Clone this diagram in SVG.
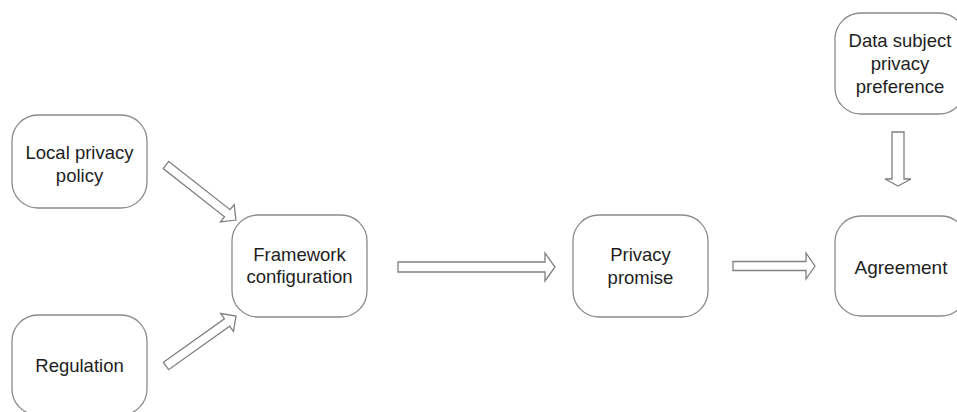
<svg xmlns="http://www.w3.org/2000/svg" width="957" height="412" viewBox="0 0 957 412">
<style>
.box{fill:#fff;stroke:#8a8a8a;stroke-width:1.3}
.arr{fill:#fff;stroke:#808080;stroke-width:1.3;stroke-linejoin:miter}
text{font-family:"Liberation Sans",Arial,sans-serif;font-size:18.5px;fill:#1e1e1e;text-anchor:middle}
</style>
<rect width="957" height="412" fill="#fff"/>
<g id="local-privacy-policy">
<rect class="box" x="12" y="115" width="135" height="93" rx="26"/>
<text x="79.5" y="159">Local privacy</text>
<text x="79.5" y="182">policy</text>
</g>
<g id="regulation">
<rect class="box" x="12" y="315" width="135" height="100" rx="26"/>
<text x="79.5" y="372">Regulation</text>
</g>
<g id="framework-configuration">
<rect class="box" x="232" y="215" width="135" height="102" rx="26"/>
<text x="299.5" y="261">Framework</text>
<text x="299.5" y="283">configuration</text>
</g>
<g id="privacy-promise">
<rect class="box" x="573" y="215" width="135" height="102" rx="26"/>
<text x="640.5" y="261">Privacy</text>
<text x="640.5" y="284">promise</text>
</g>
<g id="agreement">
<rect class="box" x="835" y="216" width="132" height="100" rx="26"/>
<text x="901" y="274" style="font-size:19px">Agreement</text>
</g>
<g id="data-subject-privacy-preference">
<rect class="box" x="835" y="13" width="130" height="101" rx="26"/>
<text x="900" y="47">Data subject</text>
<text x="900" y="70">privacy</text>
<text x="900" y="93">preference</text>
</g>
<g id="connectors">
<polygon class="arr" transform="translate(166,165) rotate(38.2)" points="0,-4.5 78,-4.5 78,-11 89,0 78,11 78,4.5 0,4.5"/>
<polygon class="arr" transform="translate(166,366) rotate(-35.5)" points="0,-4.5 75,-4.5 75,-11 86,0 75,11 75,4.5 0,4.5"/>
<polygon class="arr" transform="translate(398,267)" points="0,-5 147,-5 147,-14 157,0 147,14 147,5 0,5"/>
<polygon class="arr" transform="translate(733,266)" points="0,-4.5 73,-4.5 73,-13 82,0 73,13 73,4.5 0,4.5"/>
<polygon class="arr" transform="translate(898,132) rotate(90)" points="0,-6 47,-6 47,-13 54,0 47,13 47,6 0,6"/>
</g>
</svg>
